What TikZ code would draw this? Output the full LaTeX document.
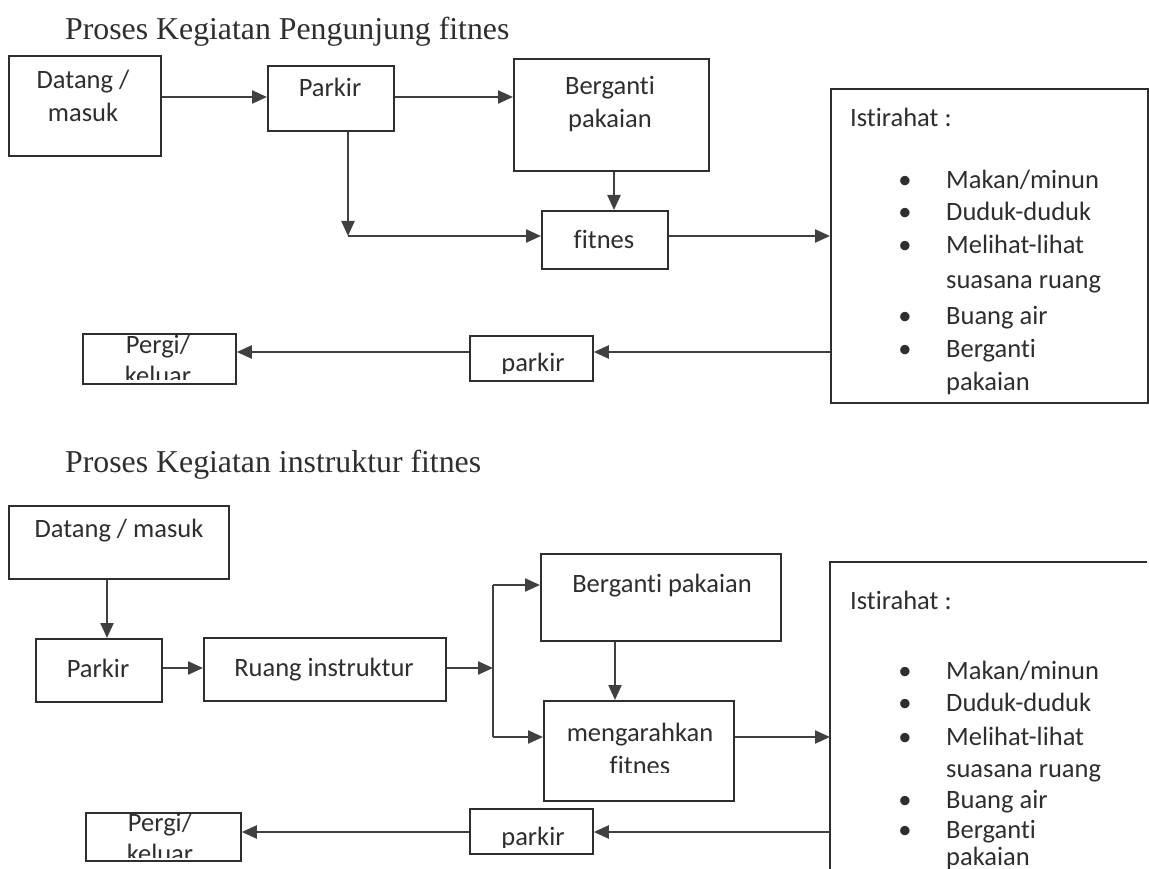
\documentclass[tikz,border=0pt]{standalone}
\usepackage{fontspec}
\setmainfont{Carlito}[Ligatures=NoCommon]
\newfontfamily\titlefont{Liberation Serif}
\usetikzlibrary{arrows.meta}
\definecolor{ink}{HTML}{2E2E2E}
\definecolor{lineink}{HTML}{404040}
\begin{document}
\begin{tikzpicture}[x=1pt,y=-1pt,
  box/.style={draw=ink,line width=1.8pt,anchor=north west,inner sep=0pt},
  txt/.style={text=ink,font=\fontsize{26.5}{33}\selectfont,align=center,anchor=base,inner sep=0pt},
  ltxt/.style={text=ink,font=\fontsize{26.5}{33}\selectfont,anchor=base west,inner sep=0pt},
  dot/.style={text=ink,font=\fontsize{26.5}{33}\selectfont,anchor=base,inner sep=0pt},
  ttl/.style={text=ink,font=\titlefont\fontsize{31.8}{38}\selectfont,anchor=base west,inner sep=0pt},
  arr/.style={draw=lineink,line width=2.3pt,-{Triangle[length=15pt,width=13pt]}},
  ln/.style={draw=lineink,line width=2.3pt}]
\useasboundingbox (0,0) rectangle (1149,869);

% ---------- visitor flow ----------
\node[ttl] (t1) at (65,40) {Proses Kegiatan Pengunjung fitnes};

% two-line labels are placed by the baseline of their last line
\node[box,minimum width=152pt,minimum height=100pt] (d1) at (8,55) {};
\node[txt] (d1t) at (83,122) {Datang /\\masuk};

\node[box,minimum width=126pt,minimum height=65pt] (p1) at (267,65) {};
\node[txt] (p1t) at (330,97) {Parkir};

\node[box,minimum width=195pt,minimum height=112pt] (b1) at (513,58) {};
\node[txt] (b1t) at (610,128) {Berganti\\pakaian};

\node[box,minimum width=126pt,minimum height=58pt] (f1) at (541,210) {};
\node[txt] (f1t) at (604,249) {fitnes};

\node[box,minimum width=317pt,minimum height=314pt] (i1) at (830,88) {};
\node[ltxt] (i1t) at (850,127) {Istirahat :};
\foreach \y/\b/\s [count=\k] in {189/1/{Makan/minun},221/1/{Duduk-duduk},254/1/{Melihat-lihat},288/0/{suasana ruang},324/1/{Buang air},357/1/{Berganti},390/0/{pakaian}}{
  \ifnum\b=1 \node[dot] (i1b\k) at (905,\y) {•};\fi
  \node[ltxt] (i1l\k) at (946,\y) {\s};
}

\node[box,minimum width=123pt,minimum height=45pt] (k1) at (469,335) {};
\begin{scope}
  \clip (469,335) rectangle (592,373);
  \node[txt] (k1t) at (533,371) {parkir};
\end{scope}

\node[box,minimum width=153pt,minimum height=50pt] (g1) at (82,333) {};
\begin{scope}
  \clip (82,333) rectangle (235,379);
  \node[txt,font=\fontsize{26.5}{31}\selectfont] (g1t) at (158,384) {Pergi/\\keluar};
\end{scope}

% connectors
\coordinate (c1) at (348,236);
\draw[arr] (d1.east |- 0,97) -- (p1.west |- 0,97);
\draw[arr] (p1.east |- 0,97) -- (b1.west |- 0,97);
\draw[arr] (c1 |- p1.south) -- (c1);
\draw[arr] (c1) -- (f1.west |- c1);
\draw[arr] (614,0 |- b1.south) -- (614,0 |- f1.north);
\draw[arr] (f1.east |- c1) -- (i1.west |- c1);
\draw[arr] (i1.west |- 0,352) -- (k1.east |- 0,352);
\draw[arr] (k1.west |- 0,352) -- (g1.east |- 0,352);

% ---------- instructor flow ----------
\node[ttl] (t2) at (65,472) {Proses Kegiatan instruktur fitnes};

\node[box,minimum width=220pt,minimum height=73pt] (d2) at (8,505) {};
\node[txt] (d2t) at (119,537) {Datang / masuk};

\node[box,minimum width=126pt,minimum height=63pt] (p2) at (35,638) {};
\node[txt] (p2t) at (98,677) {Parkir};

\node[box,minimum width=242pt,minimum height=63pt] (r2) at (203,637) {};
\node[txt] (r2t) at (324,676) {Ruang instruktur};

\node[box,minimum width=240pt,minimum height=87pt] (b2) at (540,553) {};
\node[txt] (b2t) at (662,592) {Berganti pakaian};

\node[box,minimum width=190pt,minimum height=100pt] (m2) at (543,700) {};
\begin{scope}
  \clip (543,700) rectangle (733,772);
  \node[txt] (m2t) at (640,774) {mengarahkan\\fitnes};
\end{scope}

% rest box runs past the lower edge
\draw[draw=ink,line width=1.8pt] (1147,562) -- (830,562) -- (830,872);
\coordinate (i2) at (830,562);
\node[ltxt] (i2t) at (850,609) {Istirahat :};
\foreach \y/\b/\s [count=\k] in {679/1/{Makan/minun},711/1/{Duduk-duduk},745/1/{Melihat-lihat},777/0/{suasana ruang},808/1/{Buang air},838/1/{Berganti},865/0/{pakaian}}{
  \ifnum\b=1 \node[dot] (i2b\k) at (905,\y) {•};\fi
  \node[ltxt] (i2l\k) at (946,\y) {\s};
}

\node[box,minimum width=123pt,minimum height=45pt] (k2) at (469,808) {};
\begin{scope}
  \clip (469,808) rectangle (592,847);
  \node[txt] (k2t) at (533,845) {parkir};
\end{scope}

\node[box,minimum width=155pt,minimum height=48pt] (g2) at (85,812) {};
\begin{scope}
  \clip (85,812) rectangle (240,857);
  \node[txt,font=\fontsize{26.5}{31}\selectfont] (g2t) at (160,862) {Pergi/\\keluar};
\end{scope}

% connectors
\coordinate (c2) at (493,668);
\draw[arr] (107,0 |- d2.south) -- (107,0 |- p2.north);
\draw[arr] (p2.east |- c2) -- (r2.west |- c2);
\draw[arr] (r2.east |- c2) -- (c2);
\draw[ln] (c2 |- 0,585) -- (c2 |- 0,737);
\draw[arr] (c2 |- 0,585) -- (b2.west |- 0,585);
\draw[arr] (c2 |- 0,737) -- (m2.west |- 0,737);
\draw[arr] (615,0 |- b2.south) -- (615,0 |- m2.north);
\draw[arr] (m2.east |- 0,737) -- (i2 |- 0,737);
\draw[arr] (i2 |- 0,832) -- (k2.east |- 0,832);
\draw[arr] (k2.west |- 0,832) -- (g2.east |- 0,832);
\end{tikzpicture}
\end{document}
